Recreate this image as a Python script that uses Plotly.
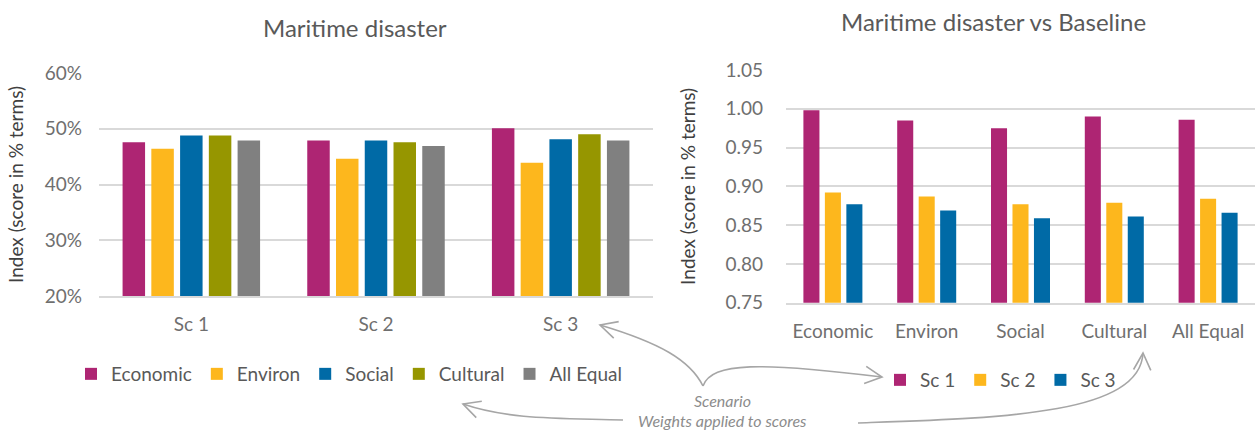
import math
import plotly.graph_objects as go

# ---- data ----
scenarios = ["Sc 1", "Sc 2", "Sc 3"]
weights = ["Economic", "Environ", "Social", "Cultural", "All Equal"]

# share of score per scenario, one list per weighting scheme
economic = [0.476, 0.479, 0.501]
environ = [0.464, 0.446, 0.439]
social = [0.488, 0.479, 0.481]
cultural = [0.488, 0.476, 0.490]
all_equal = [0.479, 0.469, 0.479]

# index relative to baseline, one list per scenario
sc1 = [0.998, 0.985, 0.975, 0.990, 0.986]
sc2 = [0.892, 0.887, 0.877, 0.879, 0.884]
sc3 = [0.877, 0.869, 0.859, 0.861, 0.866]

weight_series = [economic, environ, social, cultural, all_equal]
scenario_series = [sc1, sc2, sc3]
colors = ["#AE2573", "#FDB71D", "#006AA6", "#969600", "#808080"]

# ---- page geometry ----
W, H = 1255, 433
FONT = "Lato"
TEXT = "#595959"
TICK = "#6f6f6f"
GRID = "#d9d9d9"
ARROW = "#a6a6a6"


def px(x, y):
    return x / W, 1 - y / H


fig = go.Figure()

# left chart: five weighting schemes grouped per scenario
pitch_l, width_l = 0.1557, 0.1218
for i, (name, vals) in enumerate(zip(weights, weight_series)):
    fig.add_trace(go.Bar(
        x=scenarios, y=vals, name=name,
        marker=dict(color=colors[i], line=dict(width=0)),
        width=width_l, offset=-(4 * pitch_l + width_l) / 2 + i * pitch_l,
        xaxis="x", yaxis="y", legend="legend",
    ))

# right chart: three scenarios grouped per weighting scheme
pitch_r, width_r = 0.229, 0.171
for i, vals in enumerate(scenario_series):
    fig.add_trace(go.Bar(
        x=weights, y=vals, name=scenarios[i],
        marker=dict(color=colors[i], line=dict(width=0)),
        width=width_r, offset=-(2 * pitch_r + width_r) / 2 + i * pitch_r,
        xaxis="x2", yaxis="y2", legend="legend2",
    ))

axis_font = dict(family=FONT, size=19, color=TICK)
ytitle_font = dict(family=FONT, size=19, color="#404040")

fig.update_layout(
    width=W, height=H,
    margin=dict(l=0, r=0, t=0, b=0),
    paper_bgcolor="white", plot_bgcolor="white",
    barmode="overlay",
    font=dict(family=FONT, color=TEXT),
    xaxis=dict(
        domain=[99 / W, 653 / W], anchor="y", type="category",
        range=[-0.5, 2.5], showgrid=False, showline=True,
        linecolor=GRID, linewidth=2, ticks="", tickfont=axis_font,
        ticklabelstandoff=10, automargin=False,
    ),
    yaxis=dict(
        domain=[1 - 296 / H, 1 - 73 / H], anchor="x",
        range=[0.2, 0.6], dtick=0.1, tickformat=".0%",
        showgrid=True, gridcolor=GRID, gridwidth=2, zeroline=False,
        showline=False, ticks="", tickfont=axis_font,
        ticklabelstandoff=16, automargin=False,
        title=dict(text="Index (score in % terms)", font=ytitle_font, standoff=16),
    ),
    xaxis2=dict(
        domain=[786 / W, 1.0], anchor="y2", type="category",
        range=[-0.5, 4.5], showgrid=False, showline=True,
        linecolor=GRID, linewidth=2, ticks="", tickfont=axis_font,
        ticklabelstandoff=10, automargin=False,
    ),
    yaxis2=dict(
        domain=[1 - 302.7 / H, 1 - 70 / H], anchor="x2",
        range=[0.75, 1.05], dtick=0.05, tickformat=".2f",
        showgrid=True, gridcolor=GRID, gridwidth=2, zeroline=False,
        showline=False, ticks="", tickfont=axis_font,
        ticklabelstandoff=22, automargin=False,
        title=dict(text="Index (score in % terms)", font=ytitle_font, standoff=24),
    ),
    legend=dict(
        orientation="h", x=px(71, 0)[0], y=px(0, 374)[1],
        xanchor="left", yanchor="middle",
        font=dict(family=FONT, size=19, color=TEXT),
        itemwidth=30, traceorder="normal", bgcolor="rgba(0,0,0,0)",
    ),
    legend2=dict(
        orientation="h", x=px(880, 0)[0], y=px(0, 380)[1],
        xanchor="left", yanchor="middle",
        font=dict(family=FONT, size=19, color=TEXT),
        itemwidth=30, traceorder="normal", bgcolor="rgba(0,0,0,0)",
    ),
    showlegend=True,
)

# chart titles
for text, (x, y) in [("Maritime disaster", (355, 27)),
                     ("Maritime disaster vs Baseline", (993, 22))]:
    fx, fy = px(x, y)
    fig.add_annotation(text=text, x=fx, y=fy, xref="paper", yref="paper",
                       showarrow=False, xanchor="center", yanchor="middle",
                       font=dict(family=FONT, size=24, color=TEXT))

# explanatory note
for text, (x, y) in [("Scenario", (722, 400)),
                     ("Weights applied to scores", (722, 420))]:
    fx, fy = px(x, y)
    fig.add_annotation(text=text, x=fx, y=fy, xref="paper", yref="paper",
                       showarrow=False, xanchor="center", yanchor="middle",
                       font=dict(family=FONT, size=16, color="#8c8c8c",
                                 style="italic"))


def to_path(points, cmd):
    parts = []
    for c, pts in zip(cmd, points):
        coords = " ".join("%.5f,%.5f" % px(*p) for p in pts)
        parts.append(c + " " + coords)
    return " ".join(parts)


def curved_arrow(start, c1, c2, tip, head=19, spread=27):
    # bezier curve plus an open arrow head at the tip
    fig.add_shape(type="path", xref="paper", yref="paper",
                  path=to_path([[start], [c1, c2, tip]], ["M", "C"]),
                  line=dict(color=ARROW, width=1.6))
    dx, dy = tip[0] - c2[0], tip[1] - c2[1]
    n = math.hypot(dx, dy)
    dx, dy = dx / n, dy / n
    arms = []
    for s in (-1, 1):
        a = math.radians(spread) * s
        rx = dx * math.cos(a) - dy * math.sin(a)
        ry = dx * math.sin(a) + dy * math.cos(a)
        arms.append((tip[0] - head * rx, tip[1] - head * ry))
    fig.add_shape(type="path", xref="paper", yref="paper",
                  path=to_path([[arms[0]], [tip], [arms[1]]], ["M", "L", "L"]),
                  line=dict(color=ARROW, width=1.6))


# scenario links
curved_arrow((703, 386), (690, 360), (660, 343), (600, 325))
curved_arrow((703, 386), (712, 362), (760, 362), (882, 377))
# weighting links
curved_arrow((623, 420), (560, 418), (510, 420), (463, 404))
curved_arrow((858, 423), (1000, 418), (1140, 415), (1143, 353))

fig.write_html("out.html")
